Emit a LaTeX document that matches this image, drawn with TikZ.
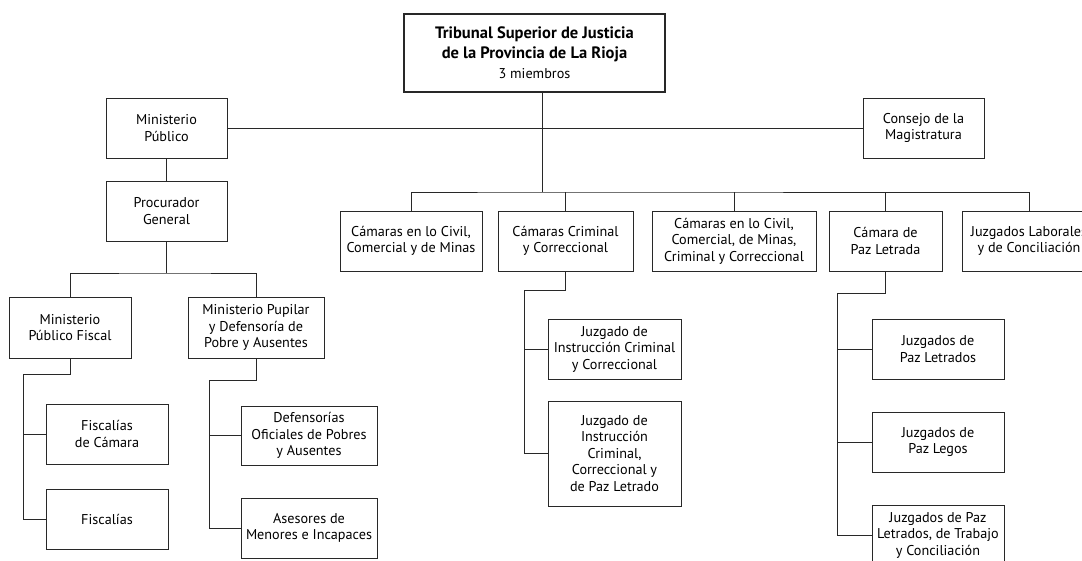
\documentclass[tikz,border=0pt]{standalone}
\usepackage{fontspec}
\setmainfont{PT Sans}
\usepackage{tikz}
\usetikzlibrary{positioning}
\usepackage{xcolor}
\definecolor{orgline}{RGB}{40,40,40}
\newcommand{\orgfont}{\fontsize{14.2}{16.5}\selectfont}
\newcommand{\orgtitle}{\fontsize{16.5}{19.5}\selectfont\bfseries}
\tikzstyle{orgbox}  = [rectangle, draw=orgline, line width=0.8pt, fill=white, align=center,
                       minimum height=60pt, inner sep=2pt, font=\orgfont]
\tikzstyle{topbox}  = [orgbox, line width=1.8pt, minimum width=261pt, minimum height=78pt]
\tikzstyle{link}    = [draw=orgline, line width=0.8pt]

\begin{document}
\begin{tikzpicture}[x=1pt, y=-1pt]
                \useasboundingbox (0,0) rectangle (1082,561);
                \clip (0,0) rectangle (1082,561);
                \fill[white] (0,0) rectangle (1082,561);
                % top level
                \node (trib) [topbox] at (534.5,53) {{\orgtitle Tribunal Superior de Justicia}\\[3pt]{\orgtitle de la Provincia de La Rioja}\\[4pt]3 miembros};
                \node (mp) [orgbox, minimum width=121pt] at (166.5,128) {Ministerio\\Público};
                \node (cons) [orgbox, minimum width=121pt] at (923.5,128) {Consejo de la\\Magistratura};
                \node (pg) [orgbox, minimum width=121pt] at (166.5,211) {Procurador\\General};
                % camaras
                \node (cam1) [orgbox, minimum width=142pt] at (411,241) {Cámaras en lo Civil,\\Comercial y de Minas};
                \node (cam2) [orgbox, minimum width=135pt] at (565.5,241) {Cámaras Criminal\\y Correccional};
                \node (cam3) [orgbox, minimum width=164pt] at (734,241) {Cámaras en lo Civil,\\Comercial, de Minas,\\Criminal y Correccional};
                \node (cam4) [orgbox, minimum width=113pt] at (885.5,241) {Cámara de\\Paz Letrada};
                \node (cam5) [orgbox, minimum width=134pt] at (1029,241) {Juzgados Laborales\\y de Conciliación};
                % ministerio publico
                \node (mpf) [orgbox, minimum width=122pt, minimum height=61pt] at (70,327.5) {Ministerio\\Público Fiscal};
                \node (mpu) [orgbox, minimum width=136pt, minimum height=61pt] at (256,327.5) {Ministerio Pupilar\\y Defensoría de\\Pobre y Ausentes};
                \node (fcam) [orgbox, minimum width=122pt] at (107,434) {Fiscalías\\de Cámara};
                \node (fis) [orgbox, minimum width=122pt] at (107,519) {Fiscalías};
                \node (def) [orgbox, minimum width=136pt, minimum height=59pt] at (309,435.5) {Defensorías\\Oficiales de Pobres\\y Ausentes};
                \node (ase) [orgbox, minimum width=136pt] at (309,528) {Asesores de\\Menores e Incapaces};
                % juzgados
                \node (jic) [orgbox, minimum width=133pt] at (614.5,349) {Juzgado de\\Instrucción Criminal\\y Correccional};
                \node (jicp) [orgbox, minimum width=133pt, minimum height=105pt] at (614.5,453.5) {Juzgado de\\Instrucción\\Criminal,\\Correccional y\\de Paz Letrado};
                \node (jpl) [orgbox, minimum width=132pt] at (938,349) {Juzgados de\\Paz Letrados};
                \node (jleg) [orgbox, minimum width=132pt] at (938,442) {Juzgados de\\Paz Legos};
                \node (jtra) [orgbox, minimum width=132pt] at (938,535) {Juzgados de Paz\\Letrados, de Trabajo\\y Conciliación};
                % connectors
                \coordinate (tribfoot) at (542,92);
                \coordinate (cambus) at (542,192);
                \coordinate (pgbus) at (pg.south |- 0,273);
                \coordinate (fisknee) at (23,374);
                \coordinate (mpuknee) at (209,380);
                \coordinate (jknee) at (524,290);
                \coordinate (pazknee) at (837,293);
                \draw[link] (mp.east) -- (cons.west);
                \draw[link] (tribfoot) -- (cambus);
                \draw[link] (cam1.north) |- (cambus) -| (cam5.north);
                \draw[link] (cam2.north) -- (cam2.north |- cambus);
                \draw[link] (cam3.north) -- (cam3.north |- cambus);
                \draw[link] (cam4.north) -- (cam4.north |- cambus);
                \draw[link] (mp) -- (pg);
                \draw[link] (pg.south) -- (pgbus);
                \draw[link] (mpf.north) |- (pgbus) -| (mpu.north);
                \draw[link] (mpf.south) |- (fisknee) |- (fis.west);
                \draw[link] (fisknee |- fcam.west) -- (fcam.west);
                \draw[link] (mpu.south) |- (mpuknee) |- (ase.west);
                \draw[link] (mpuknee |- def.west) -- (def.west);
                \draw[link] (cam2.south) |- (jknee) |- (jicp.west);
                \draw[link] (jknee |- jic.west) -- (jic.west);
                \draw[link] (cam4.south) |- (pazknee) |- (jtra.west);
                \draw[link] (pazknee |- jpl.west) -- (jpl.west);
                \draw[link] (pazknee |- jleg.west) -- (jleg.west);
            \end{tikzpicture}
\end{document}
